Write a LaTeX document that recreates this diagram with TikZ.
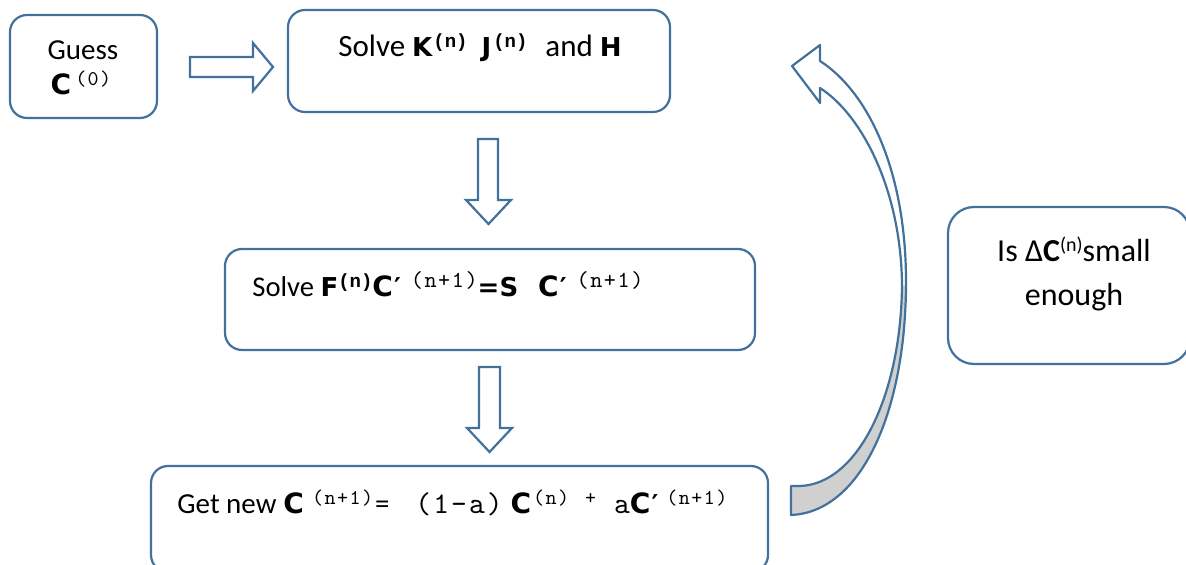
\documentclass[tikz,border=0pt]{standalone}
\usepackage{fontspec}
\setmainfont{Carlito}
\newfontfamily\boldsans{DejaVu Sans}
\newfontfamily\codebold{Liberation Mono}
\newfontfamily\codewide{lmmono10-regular}[Extension=.otf, LetterSpace=7]
\definecolor{boxblue}{RGB}{65,113,156}
\definecolor{backgray}{RGB}{208,208,208}
% pieces of the formulas
\newcommand\bsym[1]{{\fontsize{13}{13}\selectfont\boldsans\bfseries #1}}
\newcommand\bC{{\fontsize{14}{14}\selectfont\boldsans\bfseries C}}
\newcommand\prm{\hspace{0.5pt}\bsym{\char"2032}}
\newcommand\upsc[2][10.5]{\raisebox{4.5pt}{\fontsize{#1}{11}\selectfont\codewide #2}}
\newcommand\bupsc[1]{\raisebox{4.5pt}{\fontsize{9.5}{10}\selectfont\codebold\bfseries #1}}
\newcommand\code[1]{{\fontsize{15}{16}\selectfont\codewide #1}}
\tikzset{
  box/.style={draw=boxblue, line width=1.1pt, fill=white},
  txt/.style={anchor=base west, inner sep=0pt},
  blockarr/.style={draw=boxblue, line width=1.1pt, fill=white, line join=miter}
}
\begin{document}
\begin{tikzpicture}[x=0.5pt, y=-0.5pt]
    \useasboundingbox (0,0) rectangle (1186,565);
    % boxes
    \node[box, rounded corners=8.5pt, minimum width=73.5pt, minimum height=51.5pt] (guess) at (83.5,66.5) {};
    \node[box, rounded corners=8.5pt, minimum width=191pt, minimum height=51pt] (solveKJ) at (479,61) {};
    \node[box, rounded corners=8.5pt, minimum width=265pt, minimum height=50.5pt] (solveF) at (490,299.5) {};
    \node[box, rounded corners=8.5pt, minimum width=308.5pt, minimum height=53pt] (getnew) at (459.5,519) {};
    \node[box, rounded corners=13pt, minimum width=121pt, minimum height=78.5pt] (check) at (1069,285.5) {};
    % texts
    \node[txt, anchor=base, font=\fontsize{14.5}{17}\selectfont] (guessA) at (83,60) {Guess};
    \node[txt, anchor=base, font=\fontsize{14.5}{17}\selectfont] (guessB) at (81,95) {\bC\hspace{2pt}\upsc{(0)}};
    \node[txt, font=\fontsize{15.5}{18}\selectfont] (solveKJtxt) at (338,57)
        {Solve \bsym{K}\hspace{0.5pt}\bupsc{(n)}\hspace{7pt}\bsym{J}\hspace{1pt}\bupsc{(n)}\hspace{9pt}and \bsym{H}};
    \node[txt, font=\fontsize{14.3}{17}\selectfont] (solveFtxt) at (252,297)
        {Solve \bsym{F}\bupsc{(n)}\bC\prm\hspace{5pt}\upsc[11.5]{(n+1)}\bsym{=S}\hspace{10pt}\bC\prm\hspace{5pt}\upsc[11.5]{(n+1)}};
    \node[txt, font=\fontsize{14.5}{17}\selectfont] (getnewtxt) at (177,513)
        {Get new\hspace{3.5pt}\bC\hspace{4pt}\upsc{(n+1)}\hspace{1pt}=\hspace{13pt}\code{(1-a)}\hspace{4pt}\bC\hspace{1pt}\upsc{(n)}\hspace{8pt}\upsc{+}\hspace{9pt}\code{a}\bC\prm\hspace{4pt}\upsc{(n+1)}};
    \node[txt, anchor=base, font=\fontsize{16}{19}\selectfont] (checkA) at (1074,262)
        {Is \char"0394\textbf{C}\raisebox{5pt}{\fontsize{10}{10}\selectfont(n)}small};
    \node[txt, anchor=base, font=\fontsize{16}{19}\selectfont] (checkB) at (1074,306) {enough};
    % block arrows
    \draw[blockarr] (190,57) -- (253,57) -- (253,43) -- (273,67) -- (253,91) -- (253,77) -- (190,77) -- cycle;
    \draw[blockarr] (478,139) -- (498,139) -- (498,200) -- (511,200) -- (488.5,224) -- (466,200) -- (478,200) -- cycle;
    \draw[blockarr] (479,367) -- (500,367) -- (500,428) -- (512,428) -- (489.5,452) -- (467,428) -- (479,428) -- cycle;
    % curved return arrow
    \def\loopback{(791,515) .. controls (862,512) and (906,410) .. (906,282)
        .. controls (906,170) and (868,92) .. (820,61) -- (820,45) -- (792,66) -- (820,103) -- (820,88)
        .. controls (862,115) and (901,190) .. (902,285)
        .. controls (901,395) and (858,484) .. (800,486) -- (791,486) -- cycle}
    \fill[white] \loopback;
    \begin{scope}
        \clip (780,287) rectangle (930,530);
        \fill[backgray] \loopback;
    \end{scope}
    \draw[blockarr, fill=none, line join=round] \loopback;
\end{tikzpicture}
\end{document}
